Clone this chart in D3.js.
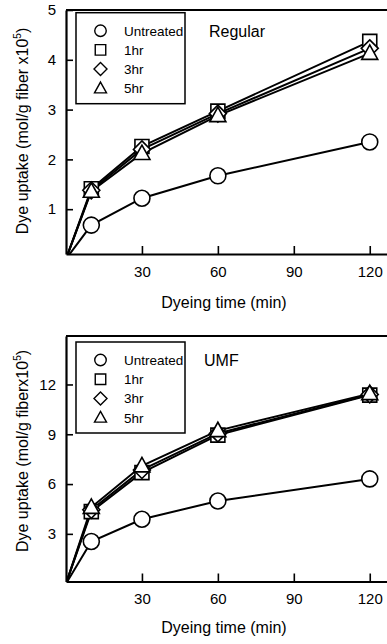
<!DOCTYPE html>
<html>
<head>
<meta charset="utf-8">
<script src="https://cdn.jsdelivr.net/npm/d3@7"></script>
<style>
  html, body { margin: 0; padding: 0; background: #fff; }
  svg { display: block; }
  text { font-family: "Liberation Sans", Arial, sans-serif; fill: #000; }
</style>
</head>
<body>
<svg id="chart" width="387" height="644"></svg>
<script>
// Dyeing time (min)
const times = [0, 10, 30, 60, 120];
const seriesNames = ["Untreated", "1hr", "3hr", "5hr"];
const seriesSymbols = ["circle", "square", "diamond", "triangle"];
const xTicks = [30, 60, 90, 120];

// Regular fibre: dye uptake (mol/g fiber x10^5)
const regularUntreated = [0, 0.68, 1.22, 1.67, 2.35];
const regular1hr       = [0, 1.41, 2.26, 2.97, 4.37];
const regular3hr       = [0, 1.38, 2.20, 2.92, 4.23];
const regular5hr       = [0, 1.36, 2.12, 2.88, 4.13];
const regularYTicks    = [1, 2, 3, 4, 5];

// UMF fibre: dye uptake (mol/g fiber x10^5)
const umfUntreated = [0, 2.54, 3.88, 4.98, 6.31];
const umf1hr       = [0, 4.34, 6.69, 8.95, 11.36];
const umf3hr       = [0, 4.45, 6.85, 9.05, 11.40];
const umf5hr       = [0, 4.60, 7.10, 9.22, 11.45];
const umfYTicks    = [3, 6, 9, 12];

const svg = d3.select("#chart");

// marker outline of width w centred on the origin
function symbolPath(type, w) {
  const h = w / 2;
  if (type === "circle") {
    const p = d3.path();
    p.arc(0, 0, h, 0, 2 * Math.PI);
    p.closePath();
    return p.toString();
  }
  if (type === "square") return `M${-h},${-h}H${h}V${h}H${-h}Z`;
  if (type === "diamond") return `M0,${-h}L${h},0L0,${h}L${-h},0Z`;
  // triangle pointing up, roughly equilateral
  const th = w * 0.9;
  return `M0,${-th * 0.58}L${h},${th * 0.42}L${-h},${th * 0.42}Z`;
}

function drawPanel(cfg) {
  const g = svg.append("g");
  const x = d3.scaleLinear().domain([0, 128]).range([66, 390]);
  const y = d3.scaleLinear().domain(cfg.yDomain).range([cfg.bottom, cfg.top]);

  const clipId = "clip-" + cfg.id;
  g.append("clipPath").attr("id", clipId)
    .append("rect")
    .attr("x", x(0)).attr("y", cfg.top)
    .attr("width", x(128) - x(0)).attr("height", cfg.bottom - cfg.top);

  // frame: top border and right border
  g.append("line")
    .attr("x1", x(0)).attr("x2", x(128))
    .attr("y1", cfg.top).attr("y2", cfg.top)
    .attr("stroke", "#000").attr("stroke-width", 2);
  g.append("line")
    .attr("x1", x(128)).attr("x2", x(128))
    .attr("y1", cfg.top).attr("y2", cfg.bottom)
    .attr("stroke", "#000").attr("stroke-width", 2);

  // x axis (ticks point inward)
  const xAxis = g.append("g")
    .attr("transform", `translate(0,${cfg.bottom})`)
    .call(d3.axisBottom(x).tickValues(xTicks).tickFormat(d3.format("d"))
      .tickSizeInner(-8).tickSizeOuter(0).tickPadding(12));
  xAxis.select(".domain").attr("stroke-width", 2.2);
  xAxis.selectAll(".tick line").attr("stroke-width", 1.6);
  xAxis.selectAll(".tick text")
    .attr("font-size", 15)
    .attr("font-family", "Liberation Sans, Arial, sans-serif");

  // y axis (ticks point inward)
  const yAxis = g.append("g")
    .attr("transform", `translate(${x(0)},0)`)
    .call(d3.axisLeft(y).tickValues(cfg.yTicks).tickFormat(d3.format("d"))
      .tickSizeInner(-7).tickSizeOuter(0).tickPadding(10));
  yAxis.select(".domain").attr("stroke-width", 2.2);
  yAxis.selectAll(".tick line").attr("stroke-width", 1.6);
  yAxis.selectAll(".tick text")
    .attr("font-size", 15)
    .attr("font-family", "Liberation Sans, Arial, sans-serif");

  // axis titles
  g.append("text")
    .attr("x", 224).attr("y", cfg.xTitleY)
    .attr("text-anchor", "middle")
    .attr("font-size", 16)
    .text("Dyeing time (min)");

  const yt = g.append("text")
    .attr("transform", `translate(28,${cfg.yTitleCenter}) rotate(-90)`)
    .attr("text-anchor", "middle")
    .attr("font-size", 16);
  yt.append("tspan").text(cfg.yTitle);
  yt.append("tspan").attr("font-size", 10).attr("dy", -7).text("5");
  yt.append("tspan").attr("dy", 7).text(")");

  // series lines and markers
  const line = d3.line().x((d, i) => x(times[i])).y(d => y(d));
  const plot = g.append("g").attr("clip-path", `url(#${clipId})`);
  cfg.series.forEach((vals) => {
    plot.append("path")
      .datum(vals)
      .attr("d", line)
      .attr("fill", "none")
      .attr("stroke", "#000")
      .attr("stroke-width", 2);
  });
  cfg.series.forEach((vals, si) => {
    const type = seriesSymbols[si];
    const w = type === "circle" ? 16 : type === "square" ? 14 : type === "diamond" ? 17 : 16;
    g.append("g").selectAll("path")
      .data(vals.slice(1))
      .join("path")
      .attr("transform", (d, i) => `translate(${x(times[i + 1])},${y(d)})`)
      .attr("d", symbolPath(type, w))
      .attr("fill", "#fff")
      .attr("stroke", "#000")
      .attr("stroke-width", 1.6);
  });

  // legend
  const lg = g.append("g");
  lg.append("rect")
    .attr("x", 76).attr("y", cfg.legendTop)
    .attr("width", 109).attr("height", 91)
    .attr("fill", "#fff")
    .attr("stroke", "#000").attr("stroke-width", 1.5);
  seriesNames.forEach((name, i) => {
    const cy = cfg.legendTop + 18 + i * 19.2;
    const type = seriesSymbols[i];
    const w = type === "circle" ? 11.5 : type === "square" ? 10.5 : type === "diamond" ? 13 : 12;
    lg.append("path")
      .attr("transform", `translate(100.5,${cy})`)
      .attr("d", symbolPath(type, w))
      .attr("fill", "#fff")
      .attr("stroke", "#000")
      .attr("stroke-width", 1.4);
    lg.append("text")
      .attr("x", 124).attr("y", cy + 5)
      .attr("font-size", 13.5)
      .text(name);
  });

  // panel label
  g.append("text")
    .attr("x", cfg.labelX).attr("y", cfg.labelY)
    .attr("font-size", 16)
    .text(cfg.label);
}

drawPanel({
  id: "regular",
  top: 10, bottom: 254,
  yDomain: [0.1, 5],
  yTicks: regularYTicks,
  series: [regularUntreated, regular1hr, regular3hr, regular5hr],
  legendTop: 12.7,
  label: "Regular", labelX: 209, labelY: 37,
  xTitleY: 308,
  yTitle: "Dye uptake (mol/g fiber x10",
  yTitleCenter: 131
});

drawPanel({
  id: "umf",
  top: 336, bottom: 581.5,
  yDomain: [0.13, 14.92],
  yTicks: umfYTicks,
  series: [umfUntreated, umf1hr, umf3hr, umf5hr],
  legendTop: 342,
  label: "UMF", labelX: 204, labelY: 366,
  xTitleY: 633,
  yTitle: "Dye uptake (mol/g fiberx10",
  yTitleCenter: 451
});
</script>
</body>
</html>
